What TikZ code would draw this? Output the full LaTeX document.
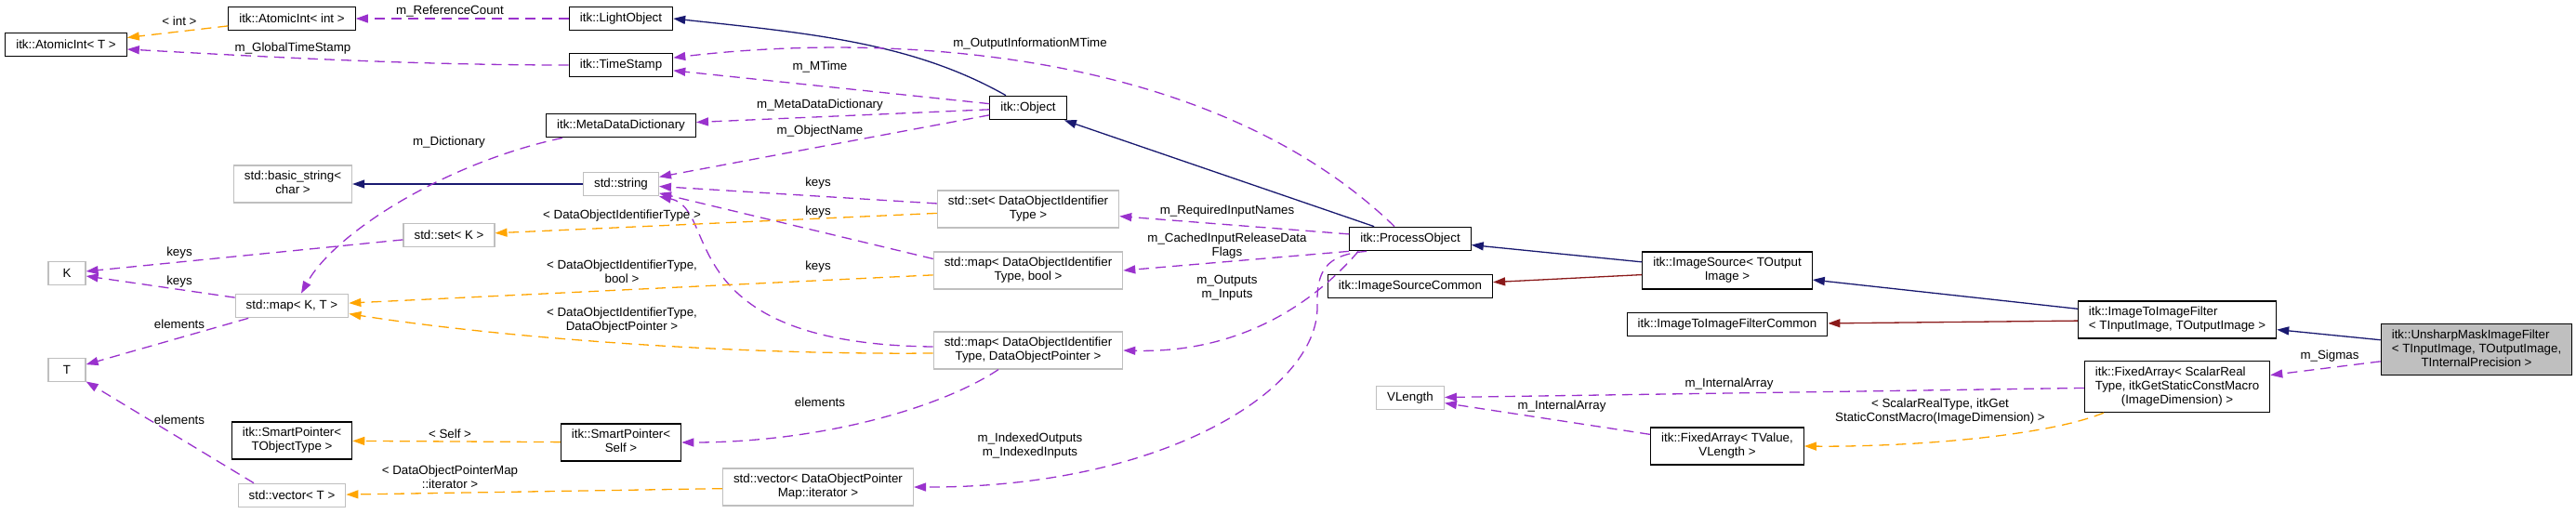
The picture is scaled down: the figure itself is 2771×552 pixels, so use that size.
\documentclass[tikz,border=0pt]{standalone}
\usepackage{fontspec}
\setmainfont{Liberation Sans}
\usetikzlibrary{arrows.meta}
\definecolor{inhblue}{HTML}{191970}
\definecolor{cmnred}{HTML}{8B1A1A}
\definecolor{usepurple}{HTML}{9A32CD}
\definecolor{tplorange}{HTML}{FFA500}
\definecolor{undocgray}{HTML}{BFBFBF}
\newcommand{\twoline}[2]{\begin{tabular}{@{}l@{}}#1\\\multicolumn{1}{@{}c@{}}{#2}\end{tabular}}
\newcommand{\threeline}[3]{\begin{tabular}{@{}l@{}}#1\\#2\\\multicolumn{1}{@{}c@{}}{#3}\end{tabular}}
\begin{document}
\begin{tikzpicture}[x=1pt, y=-1pt,
  every node/.style={font=\fontsize{13.33}{15}\selectfont},
  classbox/.style={draw=black, line width=1.2pt, fill=white, inner xsep=11.5pt, inner ysep=5pt, minimum height=25.5pt},
  extbox/.style={classbox, draw=undocgray},
  edgelbl/.style={inner sep=0pt, align=center},
  inherit/.style={draw=inhblue, line width=1.3pt, -{Triangle[length=13pt,width=9pt]}},
  commonedge/.style={inherit, draw=cmnred},
  memberedge/.style={inherit, draw=usepurple, dash pattern=on 11pt off 7pt},
  tmpledge/.style={memberedge, draw=tplorange}]
\useasboundingbox (0,0) rectangle (2771,552);
\node[classbox] (atomicT) at (71,48) {itk::AtomicInt< T >};
\node[classbox] (atomicInt) at (314,20) {itk::AtomicInt< int >};
\node[classbox] (lightObj) at (668,20) {itk::LightObject};
\node[classbox] (timeStamp) at (668,70) {itk::TimeStamp};
\node[classbox] (metaDict) at (668,135) {itk::MetaDataDictionary};
\node[extbox] (basicStr) at (315,198) {\twoline{std::basic\_string<}{char >}};
\node[extbox] (stdStr) at (668,198) {std::string};
\node[extbox] (setK) at (483,253) {std::set< K >};
\node[extbox, minimum width=40pt] (typeK) at (72,294) {K};
\node[extbox] (mapKT) at (314,329) {std::map< K, T >};
\node[extbox, minimum width=40pt] (typeT) at (72,398) {T};
\node[classbox] (smartT) at (314,474) {\twoline{itk::SmartPointer<}{TObjectType >}};
\node[extbox] (vecT) at (314,533) {std::vector< T >};
\node[classbox] (smartSelf) at (668,476) {\twoline{itk::SmartPointer<}{Self >}};
\node[classbox] (object) at (1106,116) {itk::Object};
\node[extbox] (setId) at (1106,225) {\twoline{std::set< DataObjectIdentifier}{Type >}};
\node[extbox] (mapBool) at (1106,291) {\twoline{std::map< DataObjectIdentifier}{Type, bool >}};
\node[extbox] (mapPtr) at (1106,377) {\twoline{std::map< DataObjectIdentifier}{Type, DataObjectPointer >}};
\node[extbox] (vecIter) at (880,524) {\twoline{std::vector< DataObjectPointer}{Map::iterator >}};
\node[classbox] (procObj) at (1517,257) {itk::ProcessObject};
\node[classbox] (srcCommon) at (1517,308) {itk::ImageSourceCommon};
\node[extbox] (vlength) at (1517,428) {VLength};
\node[classbox] (imgSource) at (1858,291) {\twoline{itk::ImageSource< TOutput}{Image >}};
\node[classbox] (filtCommon) at (1858,349) {itk::ImageToImageFilterCommon};
\node[classbox] (arrayV) at (1858,480) {\twoline{itk::FixedArray< TValue,}{VLength >}};
\node[classbox] (imgFilter) at (2342,344) {\twoline{itk::ImageToImageFilter}{< TInputImage, TOutputImage >}};
\node[classbox] (arrayS) at (2342,416) {\threeline{itk::FixedArray< ScalarReal}{Type, itkGetStaticConstMacro}{(ImageDimension) >}};
\node[classbox, fill=undocgray] (unsharp) at (2664,376) {\threeline{itk::UnsharpMaskImageFilter}{< TInputImage, TOutputImage,}{TInternalPrecision >}};
\draw[inherit] ([xshift=-24pt]object.north) .. controls (982,46) and (873,36) .. (lightObj.east);
\draw[inherit] (procObj) -- (object);
\draw[inherit] (imgSource) -- (procObj);
\draw[inherit] (imgFilter) -- (imgSource);
\draw[inherit] (unsharp) -- (imgFilter);
\draw[inherit] (stdStr) -- (basicStr);
\draw[commonedge] (imgSource) -- (srcCommon);
\draw[commonedge] (imgFilter) -- (filtCommon);
\draw[memberedge] (lightObj) -- (atomicInt);
\draw[memberedge] (timeStamp.west) .. controls (450,70) and (300,62) .. ([yshift=-5pt]atomicT.east);
\draw[memberedge] (object) -- (timeStamp);
\draw[memberedge] ([xshift=-17pt]procObj.north) .. controls (1300,50) and (950,35) .. (timeStamp.8);
\draw[memberedge] (object) -- (metaDict);
\draw[memberedge] (object) -- (stdStr);
\draw[memberedge] ([xshift=-63pt]metaDict.south) .. controls (480,175) and (360,250) .. ([xshift=10pt]mapKT.north);
\draw[memberedge] (setId) -- (stdStr);
\draw[memberedge] (mapBool.173) -- (stdStr);
\draw[memberedge] ([yshift=4pt]mapPtr.west) .. controls (720,370) and (775,225) .. (stdStr.south east);
\draw[memberedge] (procObj) -- (setId);
\draw[memberedge] (procObj.south west) -- (mapBool.east);
\draw[memberedge] ([xshift=10pt]procObj.south west) .. controls (1410,330) and (1330,380) .. (mapPtr.east);
\draw[memberedge] ([xshift=-47pt]procObj.south) .. controls (1425,274) and (1416,292) .. (1417,330) .. controls (1418,420) and (1250,525) .. (vecIter.east);
\draw[memberedge] ([xshift=-32pt]mapPtr.south) .. controls (1010,440) and (880,476) .. (smartSelf.east);
\draw[memberedge] (setK) -- (typeK);
\draw[memberedge] (mapKT) -- (typeK);
\draw[memberedge] (mapKT) -- (typeT);
\draw[memberedge] ([xshift=-41pt]vecT.north) -- (typeT);
\draw[memberedge] (arrayS) -- (vlength);
\draw[memberedge] (arrayV) -- (vlength);
\draw[memberedge] (unsharp) -- (arrayS);
\draw[tmpledge] (atomicInt) -- (atomicT);
\draw[tmpledge] (setId) -- (setK);
\draw[tmpledge] (mapBool) -- (mapKT);
\draw[tmpledge] ([yshift=-3pt]mapPtr.west) .. controls (800,382) and (550,365) .. (mapKT.-8);
\draw[tmpledge] (smartSelf) -- (smartT);
\draw[tmpledge] (vecIter) -- (vecT);
\draw[tmpledge] ([xshift=-79pt]arrayS.south) .. controls (2200,470) and (2050,481) .. (arrayV.east);
\node[edgelbl] (lInt) at (193,23) {< int >};
\node[edgelbl] (lRef) at (484,12) {m\_ReferenceCount};
\node[edgelbl] (lGlobal) at (315,52) {m\_GlobalTimeStamp};
\node[edgelbl] (lOutInfo) at (1108,47) {m\_OutputInformationMTime};
\node[edgelbl] (lMTime) at (882,72) {m\_MTime};
\node[edgelbl] (lMeta) at (882,113) {m\_MetaDataDictionary};
\node[edgelbl] (lName) at (882,141) {m\_ObjectName};
\node[edgelbl] (lDict) at (483,153) {m\_Dictionary};
\node[edgelbl] (lKeysA) at (880,197) {keys};
\node[edgelbl] (lKeysB) at (880,228) {keys};
\node[edgelbl] (lKeysC) at (880,287) {keys};
\node[edgelbl] (lSetTpl) at (669,232) {< DataObjectIdentifierType >};
\node[edgelbl] (lBoolTpl) at (669,292) {< DataObjectIdentifierType,\\bool >};
\node[edgelbl] (lPtrTpl) at (669,345) {< DataObjectIdentifierType,\\DataObjectPointer >};
\node[edgelbl] (lKeysK) at (193,272) {keys};
\node[edgelbl] (lKeysM) at (193,303) {keys};
\node[edgelbl] (lElemM) at (193,349) {elements};
\node[edgelbl] (lElemV) at (193,452) {elements};
\node[edgelbl] (lElemS) at (882,433) {elements};
\node[edgelbl] (lSelf) at (484,467) {< Self >};
\node[edgelbl] (lIterTpl) at (484,513) {< DataObjectPointerMap\\::iterator >};
\node[edgelbl] (lIndexed) at (1108,480) {m\_IndexedOutputs\\m\_IndexedInputs};
\node[edgelbl] (lReq) at (1320,227) {m\_RequiredInputNames};
\node[edgelbl] (lCached) at (1320,265) {m\_CachedInputReleaseData\\Flags};
\node[edgelbl] (lOuts) at (1320,310) {m\_Outputs\\m\_Inputs};
\node[edgelbl] (lArrA) at (1860,413) {m\_InternalArray};
\node[edgelbl] (lArrB) at (1680,437) {m\_InternalArray};
\node[edgelbl] (lScalar) at (2087,443) {< ScalarRealType, itkGet\\StaticConstMacro(ImageDimension) >};
\node[edgelbl] (lSigmas) at (2506,383) {m\_Sigmas};
\end{tikzpicture}
\end{document}
